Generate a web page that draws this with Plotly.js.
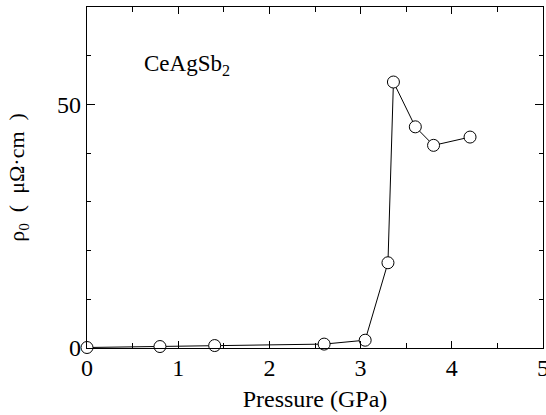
<!DOCTYPE html>
<html>
<head>
<meta charset="utf-8">
<script src="https://cdn.plot.ly/plotly-3.0.1.min.js"></script>
<style>html,body{margin:0;padding:0;background:#fff;}#chart{width:546px;height:415px;}</style>
</head>
<body>
<div id="chart"></div>
<script>
const pressure = [0, 0.8, 1.4, 2.6, 3.05, 3.3, 3.36, 3.6, 3.8, 4.2];
const rho0 = [0.1, 0.3, 0.5, 0.8, 1.6, 17.5, 54.6, 45.4, 41.6, 43.3];
const xTicks = [0, 1, 2, 3, 4, 5];
const yTicks = [0, 50];
const sampleLabel = 'CeAgSb<sub>2</sub>';
const xTitle = 'Pressure (GPa)';
const yTitle = 'ρ<sub>0</sub>  (  μΩ·cm  )';

const font = 'Liberation Serif';

const trace = {
  x: pressure, y: rho0, type: 'scatter', mode: 'lines+markers',
  line: {color: '#000', width: 1},
  marker: {symbol: 'circle', size: 12, color: '#fff', line: {color: '#000', width: 1}},
  cliponaxis: false, showlegend: false
};

const axisCommon = {
  showgrid: false, zeroline: false, showline: true, mirror: 'allticks',
  linecolor: '#000', linewidth: 1.2, ticks: 'inside', tickcolor: '#000',
  tickfont: {family: font, size: 24, color: '#000'},
  ticklabeloverflow: 'allow'
};

const layout = {
  width: 546, height: 415,
  margin: {l: 87, r: 3, t: 7, b: 67},
  paper_bgcolor: '#fff', plot_bgcolor: '#fff',
  font: {family: font, color: '#000'},
  xaxis: Object.assign({}, axisCommon, {
    range: [0, 5], tickvals: xTicks, ticktext: xTicks.map(String),
    ticklen: 7, tickwidth: 1,
    minor: {dtick: 0.5, ticklen: 5, ticks: 'inside', tickcolor: '#000'},
    ticklabelstandoff: -2,
    title: {text: xTitle, font: {family: font, size: 24, color: '#000'}, standoff: 10}
  }),
  yaxis: Object.assign({}, axisCommon, {
    range: [0, 70], tickvals: yTicks, ticktext: yTicks.map(String),
    ticklen: 8, tickwidth: 1,
    minor: {dtick: 10, ticklen: 4, ticks: 'inside', tickcolor: '#000'},
    ticklabelstandoff: 0,
    title: {text: yTitle, font: {family: font, size: 22, color: '#000'}, standoff: 26}
  }),
  annotations: [{
    text: sampleLabel, x: 0.6, y: 58, xref: 'x', yref: 'y',
    xanchor: 'left', yanchor: 'middle', showarrow: false,
    font: {family: font, size: 23, color: '#000'}
  }]
};

Plotly.newPlot('chart', [trace], layout, {displayModeBar: false, staticPlot: true});
</script>
</body>
</html>
